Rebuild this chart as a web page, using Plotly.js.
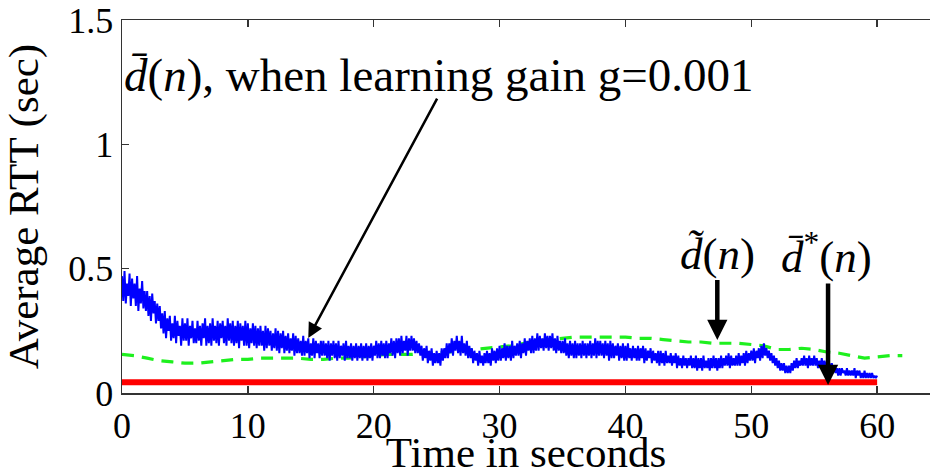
<!DOCTYPE html>
<html>
<head>
<meta charset="utf-8">
<script src="https://cdn.plot.ly/plotly-3.0.1.min.js"></script>
<style>
  html, body { margin: 0; padding: 0; background: #fff; }
  #chart { width: 930px; height: 476px; }
</style>
</head>
<body>
<div id="chart"></div>
<script>
// Sampling steps (seconds)
const blueStart = 0, blueStep = 0.1;
const redStart = 0, redStep = 1;
const greenStart = 0, greenStep = 1;

// d-bar(n) with learning gain g = 0.001 (noisy trace, one value per 0.1 s)
const avgRttLearned = [
  .47,.37,.49,.36,.44,.39,.48,.35,.46,.38,
  .44,.35,.47,.33,.42,.36,.45,.34,.41,.33,
  .41,.31,.39,.29,.40,.32,.37,.28,.36,.29,
  .35,.26,.32,.24,.33,.22,.30,.25,.31,.21,
  .28,.22,.31,.20,.29,.23,.27,.19,.30,.21,
  .28,.21,.30,.19,.27,.22,.29,.20,.26,.20,
  .29,.21,.27,.19,.28,.22,.30,.19,.27,.20,
  .28,.19,.30,.21,.27,.20,.29,.19,.28,.22,
  .29,.20,.27,.19,.30,.21,.28,.20,.29,.19,
  .27,.20,.29,.18,.28,.21,.27,.19,.29,.19,
  .28,.18,.26,.20,.28,.19,.27,.18,.26,.19,
  .27,.19,.25,.17,.27,.18,.26,.19,.25,.17,
  .24,.18,.26,.17,.25,.16,.24,.18,.25,.16,
  .23,.17,.24,.16,.22,.17,.24,.15,.23,.16,
  .22,.16,.21,.15,.23,.15,.21,.16,.22,.14,
  .20,.15,.22,.14,.21,.16,.20,.14,.21,.15,
  .21,.15,.20,.14,.21,.13,.20,.15,.21,.14,
  .20,.13,.21,.14,.19,.15,.20,.13,.21,.14,
  .19,.14,.20,.13,.19,.14,.20,.13,.19,.14,
  .20,.13,.19,.14,.20,.13,.19,.14,.20,.13,
  .19,.15,.21,.14,.20,.14,.21,.15,.20,.14,
  .21,.14,.20,.16,.22,.15,.21,.14,.22,.16,
  .22,.15,.23,.16,.21,.17,.23,.15,.22,.17,
  .23,.17,.22,.16,.21,.16,.20,.15,.19,.13,
  .18,.14,.19,.12,.17,.13,.18,.11,.16,.12,
  .17,.12,.16,.11,.18,.13,.18,.14,.20,.14,
  .20,.16,.22,.15,.21,.17,.23,.16,.21,.15,
  .23,.16,.20,.15,.21,.14,.19,.14,.18,.12,
  .17,.13,.16,.11,.17,.12,.15,.11,.16,.12,
  .17,.12,.16,.11,.18,.13,.17,.12,.18,.13,
  .19,.13,.18,.14,.20,.13,.19,.14,.19,.13,
  .21,.14,.19,.15,.20,.15,.21,.14,.20,.16,
  .22,.15,.21,.17,.22,.16,.23,.16,.22,.17,
  .24,.17,.23,.18,.22,.17,.24,.18,.23,.17,
  .23,.18,.24,.17,.22,.16,.23,.17,.21,.16,
  .21,.16,.22,.15,.20,.14,.21,.15,.20,.14,
  .21,.14,.20,.15,.20,.14,.21,.15,.20,.14,
  .20,.15,.21,.14,.20,.15,.22,.14,.21,.15,
  .21,.15,.20,.14,.21,.15,.20,.13,.21,.14,
  .20,.14,.19,.15,.20,.13,.19,.14,.20,.13,
  .19,.13,.20,.14,.18,.13,.19,.14,.18,.13,
  .19,.13,.18,.14,.19,.12,.18,.13,.17,.14,
  .18,.12,.17,.13,.16,.12,.17,.11,.17,.12,
  .16,.11,.17,.12,.15,.12,.16,.11,.15,.12,
  .16,.10,.15,.11,.14,.10,.15,.11,.14,.10,
  .14,.11,.15,.10,.14,.10,.15,.09,.14,.10,
  .14,.09,.15,.10,.13,.10,.14,.09,.14,.10,
  .15,.10,.14,.09,.14,.10,.15,.10,.14,.11,
  .15,.11,.16,.10,.15,.11,.14,.11,.15,.11,
  .16,.11,.15,.12,.16,.11,.17,.12,.16,.13,
  .17,.13,.18,.12,.17,.14,.18,.13,.19,.14,
  .20,.15,.18,.14,.17,.13,.16,.12,.15,.11,
  .14,.10,.13,.09,.12,.09,.12,.08,.11,.08,
  .11,.08,.12,.09,.13,.10,.14,.10,.13,.11,
  .14,.11,.15,.11,.14,.10,.15,.11,.14,.11,
  .15,.11,.14,.10,.13,.10,.14,.10,.13,.09,
  .13,.10,.12,.09,.12,.08,.11,.08,.10,.07,
  .10,.07,.10,.08,.09,.07,.10,.07,.09,.07,
  .09,.07,.10,.06,.09,.07,.09,.06,.08,.06,
  .09,.06,.08,.06,.08,.06,.08,.06,.07,.06,
  .07
];

// d-bar*(n), one value per second
const avgRttOptimal = [
  .043,.043,.043,.044,.043,.044,.043,.043,.043,.044,
  .045,.043,.043,.043,.044,.043,.043,.043,.043,.043,
  .043,.044,.043,.043,.045,.046,.049,.048,.045,.043,
  .043,.044,.043,.043,.044,.045,.044,.043,.043,.044,
  .043,.043,.044,.043,.043,.043,.043,.043,.043,.044,
  .046,.049,.046,.043,.043,.043,.043,.043,.043,.043,
  .043
];

// d-tilde(n), one value per second
const avgRttEstimate = [
  .155,.15,.14,.13,.125,.12,.12,.125,.13,.135,
  .135,.14,.14,.14,.14,.135,.135,.14,.14,.145,
  .15,.155,.155,.155,.16,.16,.165,.17,.175,.18,
  .185,.19,.2,.21,.215,.22,.225,.225,.225,.225,
  .225,.22,.22,.215,.21,.205,.205,.2,.2,.2,
  .195,.19,.175,.175,.18,.175,.165,.16,.15,.14,
  .145,.15,.15
];

const xTicks = [0, 10, 20, 30, 40, 50, 60];
const yTicks = [0, 0.5, 1, 1.5];
const yTickText = ['0', '0.5', '1', '1.5'];

const serif = 'Liberation Serif, serif';

const traces = [
  {
    type: 'scatter', mode: 'lines', name: 'd-tilde',
    x0: greenStart, dx: greenStep, y: avgRttEstimate,
    line: { color: '#1ef01e', width: 3.2, dash: '12px,8px' },
    hoverinfo: 'skip'
  },
  {
    type: 'scatter', mode: 'lines', name: 'd-bar',
    x0: blueStart, dx: blueStep, y: avgRttLearned,
    line: { color: '#0000ff', width: 2 },
    hoverinfo: 'skip'
  },
  {
    type: 'scatter', mode: 'lines', name: 'd-bar*',
    x0: redStart, dx: redStep, y: avgRttOptimal,
    line: { color: '#ff0000', width: 6 },
    hoverinfo: 'skip'
  }
];

const layout = {
  width: 930, height: 476,
  margin: { l: 122, r: 0, t: 20, b: 83 },
  paper_bgcolor: '#ffffff', plot_bgcolor: '#ffffff',
  showlegend: false,
  font: { family: serif, color: '#000' },
  xaxis: {
    range: [0, 64.2], tickvals: xTicks, ticks: 'inside', ticklen: 7,
    tickcolor: '#333', tickwidth: 1.3,
    showline: true, mirror: 'ticks', linecolor: '#333', linewidth: 1.5,
    showgrid: false, zeroline: false,
    tickfont: { family: serif, size: 36, color: '#000' },
    title: { text: 'Time in seconds', standoff: 6, font: { family: serif, size: 43, color: '#000' } }
  },
  yaxis: {
    range: [0, 1.5], tickvals: yTicks, ticktext: yTickText, ticks: 'inside', ticklen: 7,
    tickcolor: '#333', tickwidth: 1.3,
    showline: true, mirror: false, linecolor: '#333', linewidth: 1.5,
    showgrid: false, zeroline: false,
    tickfont: { family: serif, size: 36, color: '#000' },
    title: { text: 'Average RTT (sec)', font: { family: serif, size: 43, color: '#000' } }
  },
  annotations: [
    {
      xref: 'x', yref: 'y', x: 0, y: 1.28, xanchor: 'left', yanchor: 'middle',
      text: '<i>d\u0304</i>(<i>n</i>), when learning gain g=0.001',
      showarrow: false, font: { family: serif, size: 47, color: '#000' }
    },
    {
      xref: 'x', yref: 'y', x: 14.8, y: 0.221, axref: 'x', ayref: 'y', ax: 25.1, ay: 1.19,
      text: '', showarrow: true, arrowhead: 2, arrowsize: 1.2, arrowwidth: 2.5, arrowcolor: '#000'
    },
    {
      xref: 'x', yref: 'y', x: 47.3, y: 0.56, xanchor: 'center', yanchor: 'middle',
      text: '<i>d\u0303</i>(<i>n</i>)', showarrow: false,
      font: { family: serif, size: 45, color: '#000' }
    },
    {
      xref: 'x', yref: 'y', x: 47.3, y: 0.213, axref: 'x', ayref: 'y', ax: 47.3, ay: 0.46,
      text: '', showarrow: true, arrowhead: 2, arrowsize: 0.9, arrowwidth: 4.5, arrowcolor: '#000'
    },
    {
      xref: 'x', yref: 'y', x: 56.0, y: 0.56, xanchor: 'center', yanchor: 'middle',
      text: '<i>d\u0304</i><sup>*</sup>(<i>n</i>)', showarrow: false,
      font: { family: serif, size: 45, color: '#000' }
    },
    {
      xref: 'x', yref: 'y', x: 56.1, y: 0.032, axref: 'x', ayref: 'y', ax: 56.1, ay: 0.446,
      text: '', showarrow: true, arrowhead: 2, arrowsize: 0.9, arrowwidth: 4.5, arrowcolor: '#000'
    }
  ]
};

Plotly.newPlot('chart', traces, layout, { staticPlot: true, displayModeBar: false });
</script>
</body>
</html>
